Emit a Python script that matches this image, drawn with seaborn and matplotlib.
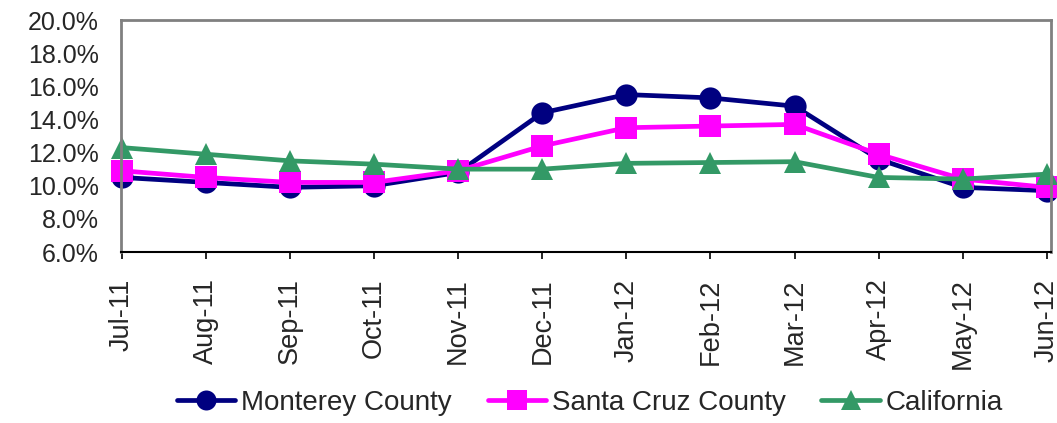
import matplotlib
matplotlib.use("Agg")
import matplotlib.pyplot as plt
import pandas as pd
import seaborn as sns
from matplotlib.ticker import PercentFormatter

months = ["Jul-11", "Aug-11", "Sep-11", "Oct-11", "Nov-11", "Dec-11",
          "Jan-12", "Feb-12", "Mar-12", "Apr-12", "May-12", "Jun-12"]
monterey = [10.5, 10.2, 9.9, 10.0, 10.8, 14.4, 15.5, 15.3, 14.8, 11.6, 9.9, 9.7]
santa_cruz = [10.9, 10.5, 10.2, 10.2, 10.9, 12.4, 13.5, 13.6, 13.7, 11.9, 10.4, 9.9]
california = [12.3, 11.9, 11.5, 11.3, 11.0, 11.0, 11.35, 11.4, 11.45, 10.5, 10.4, 10.7]

series = {
    "Monterey County": monterey,
    "Santa Cruz County": santa_cruz,
    "California": california,
}
palette = {"Monterey County": "#000080", "Santa Cruz County": "#FF00FF", "California": "#339966"}
marker_map = {"Monterey County": "o", "Santa Cruz County": "s", "California": "^"}

df = pd.concat(
    [pd.DataFrame({"idx": range(len(months)), "rate": vals, "area": name})
     for name, vals in series.items()],
    ignore_index=True,
)

sns.set_style("white")
plt.rcParams["font.family"] = ["Liberation Sans", "DejaVu Sans"]

fig = plt.figure(figsize=(10.57, 4.23), dpi=100)
ax = fig.add_axes([121 / 1057, 1 - 252 / 423, 930 / 1057, 232 / 423])

sns.lineplot(
    data=df, x="idx", y="rate", hue="area", style="area",
    palette=palette, markers=marker_map, dashes=False,
    linewidth=3.4, markersize=16, markeredgewidth=0,
    ax=ax, legend=False, clip_on=False,
)

ax.set_xlim(-0.01, 11.05)
ax.set_ylim(6, 20)
ax.set_yticks(range(6, 21, 2))
ax.yaxis.set_major_formatter(PercentFormatter(decimals=1))
ax.set_xticks(range(len(months)))
ax.set_xticklabels(months, rotation=90)
ax.set_xlabel("")
ax.set_ylabel("")
ax.tick_params(axis="x", direction="out", length=5, width=1.2, color="black",
               labelsize=19.5, pad=14, bottom=True)
ax.tick_params(axis="y", length=0, labelsize=18, pad=16)

for side in ["left", "top", "right"]:
    ax.spines[side].set_color("#808080")
    ax.spines[side].set_linewidth(2)
ax.spines["bottom"].set_color("black")
ax.spines["bottom"].set_linewidth(1.5)

handles = [
    plt.Line2D([], [], color=palette[n], marker=marker_map[n], linewidth=3.4,
               markersize=16, markeredgewidth=0)
    for n in series
]
fig.legend(handles, list(series), loc="center", bbox_to_anchor=(0.558, 1 - 403 / 423),
           ncol=3, frameon=False, fontsize=20, handlelength=2.1, handletextpad=0.2,
           columnspacing=1.3, markerscale=0.9, borderpad=0)

fig.savefig("out.png", dpi=100)
